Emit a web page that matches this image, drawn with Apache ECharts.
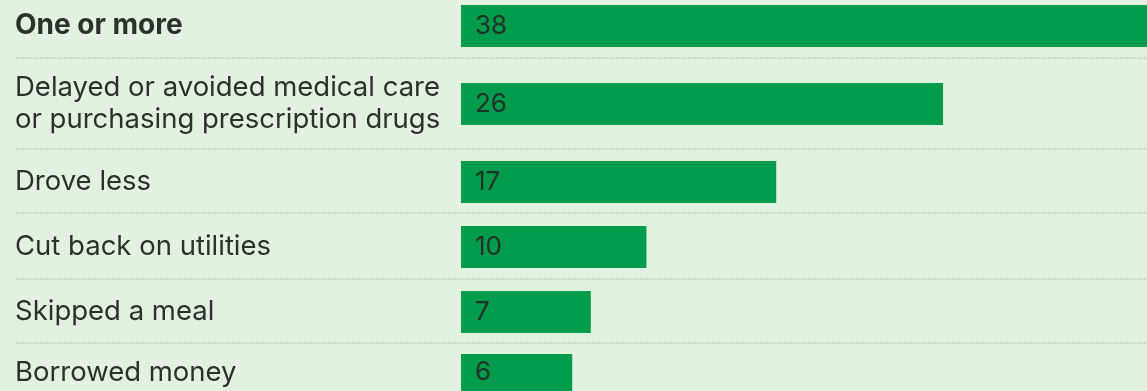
<!DOCTYPE html>
<html>
<head>
<meta charset="utf-8">
<style>
  html, body { margin: 0; padding: 0; background: #e3f1e0; }
  #chart { width: 1147px; height: 391px; }
</style>
<script src="https://cdn.jsdelivr.net/npm/echarts@6/dist/echarts.min.js"></script>
</head>
<body>
<div id="chart"></div>
<script>
// Share of respondents who took each action (%)
const categories = [
  'One or more',
  'Delayed or avoided medical care\nor purchasing prescription drugs',
  'Drove less',
  'Cut back on utilities',
  'Skipped a meal',
  'Borrowed money'
];
const values = [38, 26, 17, 10, 7, 6];

// Row layout: top of each bar band, and the dotted rules between rows
const rowTops = [5, 83, 161, 226, 291, 354];
const bandHeight = 42;
const ruleYs = [58, 149, 213, 279, 343];
// extra bottom padding lifts a label slightly above its bar's centre
const labelLift = [6, 7, 0, 0, 0, 0];

const FONT = 'Inter, "Noto Sans", sans-serif';
const GREEN = '#009b4b';
const INK = '#2c312d';

const grids = [], xAxes = [], yAxes = [], series = [];
categories.forEach((cat, i) => {
  grids.push({ left: 461, right: 0, top: rowTops[i], height: bandHeight });
  xAxes.push({
    gridIndex: i, type: 'value', min: 0, max: 37,
    show: false
  });
  yAxes.push({
    gridIndex: i, type: 'category', data: [cat],
    axisLine: { show: false }, axisTick: { show: false }, splitLine: { show: false },
    axisLabel: {
      margin: 446, align: 'left',
      fontFamily: FONT,
      fontSize: i === 0 ? 28 : 27.5,
      lineHeight: 32,
      fontWeight: i === 0 ? 'bold' : 'normal',
      padding: [0, 0, labelLift[i], 0],
      color: INK
    }
  });
  series.push({
    type: 'bar', xAxisIndex: i, yAxisIndex: i,
    data: [values[i]], barWidth: bandHeight, clip: true,
    itemStyle: { color: GREEN },
    label: {
      show: true, position: 'insideLeft', distance: 14,
      fontFamily: FONT, fontSize: 26, color: '#243329'
    },
    silent: true
  });
});

const rules = ruleYs.map(y => ({
  type: 'line',
  shape: { x1: 16, y1: y, x2: 1147, y2: y },
  style: { stroke: '#bcc8bc', lineWidth: 1.5, lineDash: [1.5, 1.5] },
  silent: true
}));

const chart = echarts.init(document.getElementById('chart'));
chart.setOption({
  backgroundColor: '#e3f1e0',
  animation: false,
  grid: grids,
  xAxis: xAxes,
  yAxis: yAxes,
  series: series,
  graphic: rules
});
</script>
</body>
</html>
